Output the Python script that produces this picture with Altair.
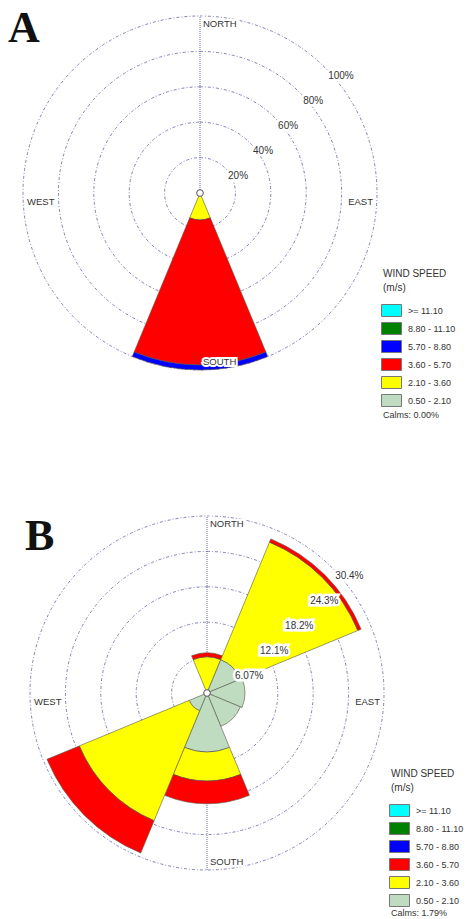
import altair as alt
import numpy as np
import pandas as pd

# ---------------- data ----------------
directions = ["N", "NE", "E", "SE", "S", "SW", "W", "NW"]
dir_angles = [0, 45, 90, 135, 180, 225, 270, 315]
speed_bins = ["0.50 - 2.10", "2.10 - 3.60", "3.60 - 5.70",
              "5.70 - 8.80", "8.80 - 11.10", ">= 11.10"]
bin_colors = ["#c0dcc0", "#ffff00", "#ff0000", "#0000ff", "#008000", "#00ffff"]

# Panel A (% frequency per direction and speed class)
a_050_210 = [0, 0, 0, 0, 0.0, 0, 0, 0]
a_210_360 = [0, 0, 0, 0, 15.2, 0, 0, 0]
a_360_570 = [0, 0, 0, 0, 82.0, 0, 0, 0]
a_570_880 = [0, 0, 0, 0, 2.8, 0, 0, 0]
a_880_1110 = [0, 0, 0, 0, 0, 0, 0, 0]
a_ge_1110 = [0, 0, 0, 0, 0, 0, 0, 0]
a_ring_values = [20, 40, 60, 80, 100]
a_ring_labels = ["20%", "40%", "60%", "80%", "100%"]
a_calms = "Calms: 0.00%"

# Panel B
b_050_210 = [0.3, 6.2, 6.5, 6.2, 10.1, 3.3, 0, 0]
b_210_360 = [5.9, 21.8, 0, 0, 5.0, 20.4, 0, 0]
b_360_570 = [0.7, 0.6, 0, 0, 3.9, 6.0, 0, 0]
b_570_880 = [0, 0, 0, 0, 0, 0, 0, 0]
b_880_1110 = [0, 0, 0, 0, 0, 0, 0, 0]
b_ge_1110 = [0, 0, 0, 0, 0, 0, 0, 0]
b_ring_values = [6.07, 12.14, 18.21, 24.28, 30.35]
b_ring_labels = ["6.07%", "12.1%", "18.2%", "24.3%", "30.4%"]
b_calms = "Calms: 1.79%"

dir_label_text = ["NORTH", "SOUTH", "WEST", "EAST"]

# ---------------- styling ----------------
R_PX = 177
FONT = "Liberation Sans"
RING_COLOR = "#6464a8"
TXT = "#333333"


def make_panel(letter, series, ring_values, ring_labels, calms,
               W, H, cx, cy, letter_xy, legend_xy, calms_xy):
    k = R_PX / ring_values[-1]
    rmax = ring_values[-1]

    rows = []
    for i, d in enumerate(directions):
        cum = 0.0
        for j, b in enumerate(speed_bins):
            v = series[j][i]
            if v > 0:
                rows.append(dict(dir=d, bin=b, r0=cum, r1=cum + v,
                                 t0=dir_angles[i] - 22.5, t1=dir_angles[i] + 22.5,
                                 cx=0.0, cy=0.0))
                cum += v
    wedges = pd.DataFrame(rows)

    sx = alt.Scale(domain=[-cx / k, (W - cx) / k], range=[0, W], nice=False, zero=False)
    sy = alt.Scale(domain=[-(H - cy) / k, cy / k], nice=False, zero=False)
    sr = alt.Scale(type="linear", domain=[0, rmax], range=[0, R_PX], zero=True, nice=False)
    st = alt.Scale(domain=[0, 360], range=[0, 2 * np.pi])

    X = lambda f: alt.X(f, scale=sx, axis=None)
    Y = lambda f: alt.Y(f, scale=sy, axis=None)

    rings_df = pd.DataFrame({"ring": ring_values, "t0": 0.0, "t1": 360.0,
                             "cx": 0.0, "cy": 0.0})
    rings = alt.Chart(rings_df).mark_arc(
        filled=False, stroke=RING_COLOR, strokeWidth=0.9, strokeDash=[3, 2, 1, 2],
        opacity=0.9
    ).encode(
        x=X("cx:Q"), y=Y("cy:Q"),
        theta=alt.Theta("t0:Q", scale=st), theta2="t1:Q",
        radius=alt.Radius("ring:Q", scale=sr),
    )

    axis_df = pd.DataFrame({"x": [0.0], "y": [-rmax], "y2": [rmax]})
    ns_line = alt.Chart(axis_df).mark_rule(
        color=RING_COLOR, strokeWidth=1, strokeDash=[1, 1]
    ).encode(x=X("x:Q"), y=Y("y:Q"), y2="y2:Q")

    wedge_layer = alt.Chart(wedges).mark_arc(
        stroke="#555544", strokeWidth=0.6
    ).encode(
        x=X("cx:Q"), y=Y("cy:Q"),
        theta=alt.Theta("t0:Q", scale=st), theta2="t1:Q",
        radius=alt.Radius("r1:Q", scale=sr), radius2="r0:Q",
        color=alt.Color(
            "bin:N",
            scale=alt.Scale(domain=speed_bins[::-1], range=bin_colors[::-1]),
            legend=alt.Legend(
                title=["WIND SPEED", "(m/s)"], orient="none",
                legendX=legend_xy[0], legendY=legend_xy[1],
                symbolType="M-1.25,-0.75H1.25V0.75H-1.25Z", symbolSize=256,
                symbolStrokeColor="#777777", symbolStrokeWidth=1,
                symbolOpacity=1,
                titleFont=FONT, titleFontSize=10, titleFontWeight="normal",
                titleColor=TXT, titleLineHeight=14, titlePadding=9,
                labelFont=FONT, labelFontSize=9, labelColor=TXT,
                labelOffset=8, rowPadding=1,
            ),
        ),
    )

    ang = np.deg2rad(45)
    lab_df = pd.DataFrame({
        "t": ring_labels,
        "x": [r * np.sin(ang) for r in ring_values],
        "y": [r * np.cos(ang) for r in ring_values],
    })
    lab_kw = dict(align="left", baseline="top", dx=3, dy=3, font=FONT, fontSize=10)
    ring_halo = alt.Chart(lab_df).mark_text(
        stroke="white", strokeWidth=5, strokeJoin="miter", fill="white", **lab_kw
    ).encode(x=X("x:Q"), y=Y("y:Q"), text="t:N")
    ring_text = alt.Chart(lab_df).mark_text(color=TXT, **lab_kw).encode(
        x=X("x:Q"), y=Y("y:Q"), text="t:N")

    # compass labels, placed just inside the outer ring
    dl = pd.DataFrame({
        "t": dir_label_text[:3],
        "x": [3 / k, 3 / k, -(R_PX - 4) / k],
        "y": [(R_PX - 8) / k, -(R_PX - 8) / k, -9 / k],
    })
    de = pd.DataFrame({"t": [dir_label_text[3]], "x": [(R_PX - 4) / k], "y": [-9 / k]})
    dkw = dict(baseline="middle", font=FONT, fontSize=9.5)
    dir_halo_l = alt.Chart(dl).mark_text(
        align="left", stroke="white", strokeWidth=4, fill="white", **dkw
    ).encode(x=X("x:Q"), y=Y("y:Q"), text="t:N")
    dir_text_l = alt.Chart(dl).mark_text(align="left", color=TXT, **dkw).encode(
        x=X("x:Q"), y=Y("y:Q"), text="t:N")
    dir_text_r = alt.Chart(de).mark_text(align="right", color=TXT, **dkw).encode(
        x=X("x:Q"), y=Y("y:Q"), text="t:N")

    center = alt.Chart(pd.DataFrame({"x": [0.0], "y": [0.0]})).mark_point(
        shape="circle", filled=True, fill="white", stroke="#555555",
        strokeWidth=1, size=45, opacity=1
    ).encode(x=X("x:Q"), y=Y("y:Q"))

    letter_mark = alt.Chart(pd.DataFrame({"t": [letter]})).mark_text(
        font="Liberation Serif", fontWeight="bold", fontSize=44,
        align="left", baseline="alphabetic", color="#111111"
    ).encode(text="t:N", x=alt.value(letter_xy[0]), y=alt.value(letter_xy[1]))

    calms_mark = alt.Chart(pd.DataFrame({"t": [calms]})).mark_text(
        font=FONT, fontSize=9, align="left", baseline="middle", color=TXT
    ).encode(text="t:N", x=alt.value(calms_xy[0]), y=alt.value(calms_xy[1]))

    return alt.layer(
        rings, ns_line, wedge_layer, ring_halo, ring_text,
        dir_halo_l, dir_text_l, dir_text_r, center, letter_mark, calms_mark
    ).properties(width=W, height=H)


panel_a = make_panel(
    "A",
    [a_050_210, a_210_360, a_360_570, a_570_880, a_880_1110, a_ge_1110],
    a_ring_values, a_ring_labels, a_calms,
    W=468, H=459, cx=200, cy=193,
    letter_xy=(8, 42), legend_xy=(383, 269), calms_xy=(383, 415),
)
panel_b = make_panel(
    "B",
    [b_050_210, b_210_360, b_360_570, b_570_880, b_880_1110, b_ge_1110],
    b_ring_values, b_ring_labels, b_calms,
    W=468, H=460, cx=207, cy=234,
    letter_xy=(25, 91), legend_xy=(391, 310), calms_xy=(391, 454),
)

chart = alt.vconcat(panel_a, panel_b, spacing=0, bounds="flush").resolve_scale(
    color="independent"
).properties(padding=0).configure_view(stroke=None)

chart.save("out.html", embed_options={"renderer": "svg", "actions": False})
